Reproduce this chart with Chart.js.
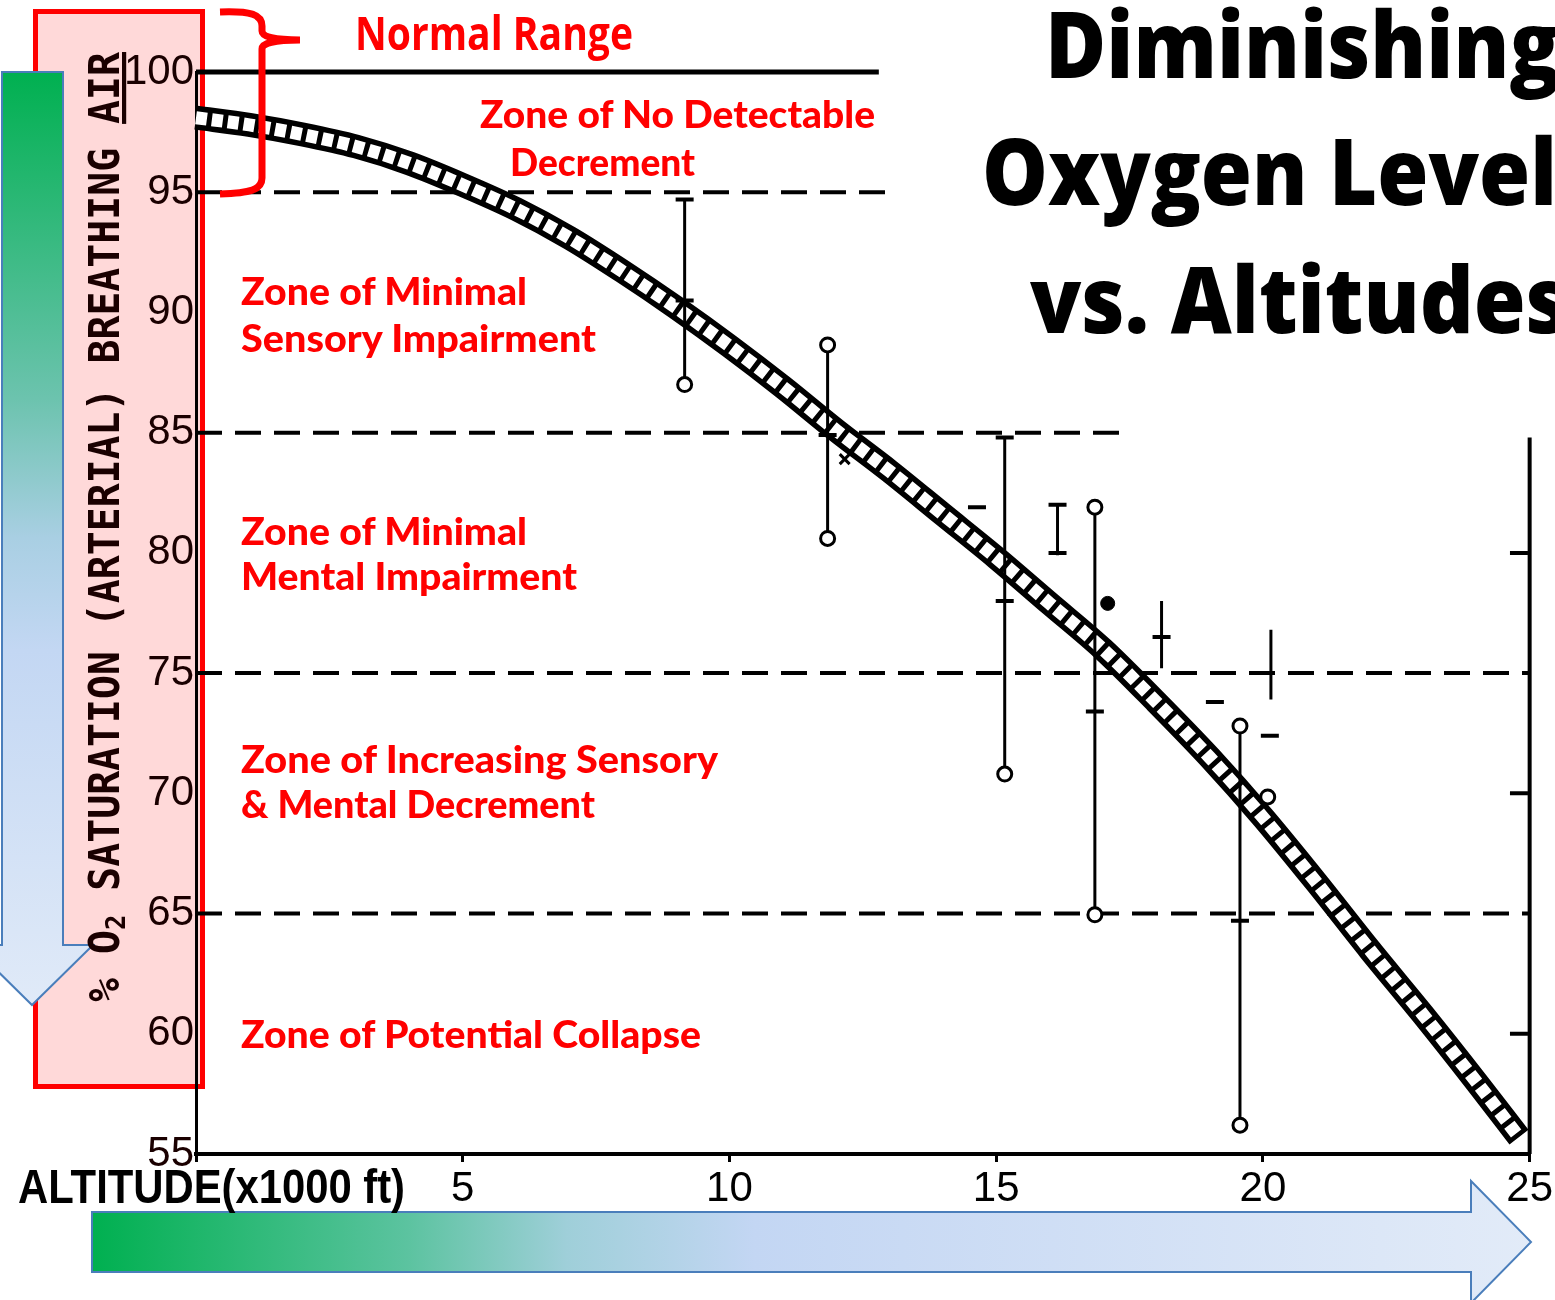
<!DOCTYPE html>
<html>
<head>
<meta charset="utf-8">
<script src="https://cdn.jsdelivr.net/npm/chart.js@4.4.1/dist/chart.umd.min.js"></script>
<style>
html,body{margin:0;padding:0;background:#fff}
#wrap{position:relative;width:1555px;height:1300px;overflow:hidden}
#wrap svg,#wrap canvas{position:absolute;left:0;top:0}
#under{z-index:0}
#chart{z-index:1}
#over{z-index:2;pointer-events:none}
</style>
</head>
<body>
<div id="wrap">
<svg id="under" width="1555" height="1300">
  <defs>
    <linearGradient id="gv" x1="0" y1="0" x2="0" y2="1">
      <stop offset="0" stop-color="#00b050"/>
      <stop offset="0.35" stop-color="#6cc3ae"/>
      <stop offset="0.5" stop-color="#a9cfe3"/>
      <stop offset="0.62" stop-color="#c3d7f3"/>
      <stop offset="1" stop-color="#e0eaf8"/>
    </linearGradient>
    <linearGradient id="gh" x1="0" y1="0" x2="1" y2="0">
      <stop offset="0" stop-color="#00b050"/>
      <stop offset="0.22" stop-color="#5cc3a0"/>
      <stop offset="0.33" stop-color="#9fcfd9"/>
      <stop offset="0.46" stop-color="#c3d6f3"/>
      <stop offset="1" stop-color="#e2ebf8"/>
    </linearGradient>
  </defs>
  <!-- pink box behind the y axis -->
  <rect x="35.5" y="11.5" width="167" height="1075" fill="#ffd9d9" stroke="#ff0000" stroke-width="5"/>
  <!-- arrows -->
  <polygon points="2,72 63,72 63,945 93,945 32,1005 -29,945 2,945" fill="url(#gv)" stroke="#4a7ebb" stroke-width="2"/>
  <polygon points="92,1212 1471,1212 1471,1181 1531,1242 1471,1303 1471,1272 92,1272" fill="url(#gh)" stroke="#4a7ebb" stroke-width="2"/>
</svg>

<canvas id="chart" width="1555" height="1300"></canvas>

<svg id="over" width="1555" height="1300">
  <!-- bracket -->
  <path d="M220,12 C250,11 262,14 262,26 L262,31 Q262,40 300,40 M300,40 Q262,40 262,49 L262,178 C262,190 250,193 220,194"
        fill="none" stroke="#ff0000" stroke-width="7"/>

  <text x="355" y="50" font-family="Open Sans" font-weight="700" font-size="46" fill="#ff0000"
        textLength="278" lengthAdjust="spacingAndGlyphs">Normal Range</text>

  <g font-family="Lato" font-weight="900" font-size="37" fill="#ff0000">
    <text x="480" y="128" textLength="395" lengthAdjust="spacingAndGlyphs">Zone of No Detectable</text>
    <text x="510" y="176" textLength="185" lengthAdjust="spacingAndGlyphs">Decrement</text>
    <text x="241" y="305" textLength="286" lengthAdjust="spacingAndGlyphs">Zone of Minimal</text>
    <text x="241" y="352" textLength="355" lengthAdjust="spacingAndGlyphs">Sensory Impairment</text>
    <text x="241" y="545" textLength="286" lengthAdjust="spacingAndGlyphs">Zone of Minimal</text>
    <text x="241" y="590" textLength="336" lengthAdjust="spacingAndGlyphs">Mental Impairment</text>
    <text x="241" y="773" textLength="477" lengthAdjust="spacingAndGlyphs">Zone of Increasing Sensory</text>
    <text x="241" y="818" textLength="354" lengthAdjust="spacingAndGlyphs">&amp; Mental Decrement</text>
    <text x="241" y="1048" textLength="460" lengthAdjust="spacingAndGlyphs">Zone of Potential Collapse</text>
  </g>

  <g font-family="Open Sans" font-weight="800" font-size="92" fill="#000">
    <text x="1045" y="78" textLength="515" lengthAdjust="spacingAndGlyphs">Diminishing</text>
    <text x="982" y="205" textLength="575" lengthAdjust="spacingAndGlyphs">Oxygen Level</text>
    <text x="1030" y="333" textLength="539" lengthAdjust="spacingAndGlyphs">vs. Altitudes</text>
  </g>

  <!-- y axis title -->
  <text transform="translate(119,527) rotate(-90)" x="0" y="0" text-anchor="middle"
        font-family="DejaVu Sans Mono" font-weight="700" font-size="42" fill="#1a0000"
        textLength="950" lengthAdjust="spacingAndGlyphs">% O<tspan font-size="27" baseline-shift="-6">2</tspan> SATURATION (ARTERIAL) BREATHING <tspan text-decoration="underline">AIR</tspan></text>

  <!-- x axis title -->
  <text x="18" y="1203" font-family="Liberation Sans" font-weight="700" font-size="48" fill="#000"
        textLength="387" lengthAdjust="spacingAndGlyphs">ALTITUDE(x1000 ft)</text>
</svg>
</div>

<script>
// altitude (x1000 ft) / O2 saturation (%)
const curveAlt = [0, 1, 2, 3, 4, 5, 6, 7, 8, 9, 10, 11, 12, 13, 14, 15, 16, 17, 18, 19, 20, 21, 22, 23, 24, 24.8];
const curveSat = [98.1, 97.8, 97.4, 96.9, 96.2, 95.3, 94.3, 93.1, 91.7, 90.2, 88.6, 86.9, 85.1, 83.4, 81.6, 79.8, 77.9, 76.0, 73.8, 71.5, 69.0, 66.3, 63.5, 60.8, 58.0, 55.7];

// zone boundaries
const zoneLevels = [100, 95, 85, 75, 65];
const zoneEnds = [12.8, 13.0, 17.4, 25, 25];

// measured ranges (vertical bars)
const barAlt  = [9.16, 11.84, 15.16, 16.15, 16.85, 18.1, 19.57, 20.15];
const barHigh = [94.7, 88.65, 84.8, 82.0, 81.9, 78.0, 72.8, 76.8];
const barLow  = [87.0, 80.6, 70.8, 79.9, 64.95, 75.2, 56.2, 73.9];

// open circle ends
const openAlt = [9.16, 11.84, 11.84, 15.16, 16.85, 16.85, 19.57, 19.57, 20.09];
const openSat = [87.0, 88.65, 80.6, 70.8, 81.9, 64.95, 72.8, 56.2, 69.85];

// short horizontal marks
const dashAlt = [9.16, 9.16, 11.84, 15.16, 15.16, 16.15, 16.15, 16.85, 18.1, 19.57, 14.64, 19.1, 20.13, 24.8, 24.8, 24.8];
const dashSat = [94.7, 90.5, 84.9, 84.8, 78.0, 80.0, 82.0, 73.4, 76.5, 64.7, 81.9, 73.8, 72.4, 80, 70, 60];

const dotAlt = [17.09];
const dotSat = [77.9];
const crossAlt = [12.16];
const crossSat = [83.9];

const rightAxisAlt = [25, 25];
const rightAxisSat = [84.8, 55];

const xTicks = [0, 5, 10, 15, 20, 25];

const pts = (xs, ys) => xs.map((x, i) => ({x, y: ys[i]}));

const datasets = [];

/* zone lines */
zoneLevels.forEach((lv, i) => {
  datasets.push({
    data: [{x: 0, y: lv}, {x: zoneEnds[i], y: lv}],
    borderColor: '#000', borderWidth: i ? 4 : 5,
    borderDash: i ? [26, 13] : [],
    pointRadius: 0, order: 6
  });
});

/* the curve: black band with white cells */
datasets.push({
  data: pts(curveAlt, curveSat),
  borderColor: '#000', borderWidth: 24, borderCapStyle: 'butt',
  cubicInterpolationMode: 'monotone', pointRadius: 0, order: 5
});
datasets.push({
  data: pts(curveAlt, curveSat),
  borderColor: '#fff', borderWidth: 13, borderCapStyle: 'butt',
  borderDash: [11, 5],
  cubicInterpolationMode: 'monotone', pointRadius: 0, order: 4
});

/* bars */
barAlt.forEach((x, i) => {
  datasets.push({
    data: [{x, y: barHigh[i]}, {x, y: barLow[i]}],
    borderColor: '#000', borderWidth: 3, pointRadius: 0, order: 3
  });
});
datasets.push({
  data: pts(rightAxisAlt, rightAxisSat),
  borderColor: '#000', borderWidth: 4, pointRadius: 0, order: 3
});

/* marks */
datasets.push({
  data: pts(dashAlt, dashSat), showLine: false,
  pointStyle: 'line', pointRadius: 9, pointBorderWidth: 4,
  pointBorderColor: '#000', order: 2
});
datasets.push({
  data: pts(openAlt, openSat), showLine: false,
  pointStyle: 'circle', pointRadius: 7, pointBorderWidth: 3,
  pointBackgroundColor: '#fff', pointBorderColor: '#000', order: 1
});
datasets.push({
  data: pts(dotAlt, dotSat), showLine: false,
  pointStyle: 'circle', pointRadius: 7, pointBorderWidth: 1,
  pointBackgroundColor: '#000', pointBorderColor: '#000', order: 1
});
datasets.push({
  data: pts(crossAlt, crossSat), showLine: false,
  pointStyle: 'crossRot', pointRadius: 7, pointBorderWidth: 3,
  pointBorderColor: '#000', order: 1
});

datasets.forEach(d => { d.clip = 12; d.fill = false; });

const tickFont = {family: '"Liberation Sans Narrow", "Liberation Sans", sans-serif', size: 42};

new Chart(document.getElementById('chart'), {
  type: 'line',
  data: {datasets},
  options: {
    responsive: false,
    animation: false,
    devicePixelRatio: 1,
    layout: {padding: {top: 72, right: 25, left: 0, bottom: 0}},
    plugins: {legend: {display: false}, tooltip: {enabled: false}},
    scales: {
      x: {
        type: 'linear', min: 0, max: 25,
        afterFit: s => { s.height = 146; },
        afterBuildTicks: s => { s.ticks = xTicks.map(v => ({value: v})); },
        border: {color: '#000', width: 4},
        grid: {drawOnChartArea: false, tickLength: 8, color: '#000', lineWidth: 3},
        ticks: {
          callback: v => v === 0 ? '' : v,
          font: tickFont, color: '#000', padding: 2,
          maxRotation: 0, autoSkip: false
        }
      },
      y: {
        min: 55, max: 100,
        afterFit: s => { s.width = 196; },
        border: {color: '#000', width: 3},
        grid: {display: false, drawTicks: false},
        ticks: {stepSize: 5, font: tickFont, color: '#1a0000', padding: 2}
      }
    }
  }
});
</script>
</body>
</html>
